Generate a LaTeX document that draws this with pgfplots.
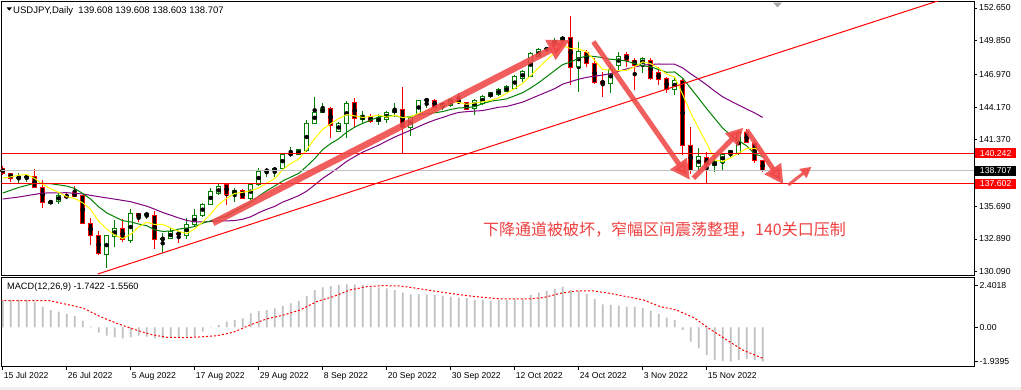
\documentclass[border=0pt]{standalone}
\usepackage{fontspec}
\setmainfont{Liberation Sans}
\newfontfamily\cjk{Noto Sans CJK SC}
\usepackage{pgfplots}
\usepackage{pgfplotstable}
\pgfplotsset{compat=1.18}
\usetikzlibrary{arrows.meta}
\definecolor{upg}{RGB}{0,128,0}
\definecolor{dnr}{RGB}{255,0,0}
\definecolor{maY}{RGB}{255,255,0}
\definecolor{maG}{RGB}{0,128,0}
\definecolor{maP}{RGB}{128,0,128}
\definecolor{arr}{RGB}{240,72,72}
\definecolor{txtr}{RGB}{240,64,64}
\definecolor{lgray}{RGB}{192,192,192}

\pgfplotstableread{
i o h l c
2 138.11 138.51 137.65 138.19
3 138.15 138.45 137.79 138.24
6 135.94 136.23 135.86 136.14
7 136.08 136.94 135.86 136.65
13 131.58 133.17 130.38 133.15
14 133.09 134.51 132.23 133.81
16 132.80 135.46 132.52 135.03
18 134.88 135.17 134.60 135.09
20 132.86 133.38 131.67 132.95
21 132.95 133.81 132.86 133.51
23 133.23 134.66 132.89 134.09
24 134.09 135.43 133.94 134.94
25 134.94 135.94 134.80 135.86
26 135.86 137.23 135.80 136.94
27 136.74 137.65 136.65 137.36
29 136.71 137.23 136.08 137.08
31 136.37 137.65 136.23 137.51
32 137.57 138.94 137.45 138.65
33 138.68 138.99 138.22 138.79
34 138.73 139.05 138.22 138.94
35 138.94 140.20 138.88 140.16
36 140.10 140.79 139.88 140.22
37 140.08 140.60 140.04 140.56
38 140.44 143.07 140.36 142.79
39 142.79 145.06 142.73 143.73
40 143.69 144.55 143.64 144.07
42 142.07 142.92 142.04 142.79
43 142.79 144.69 141.56 144.50
45 143.13 143.84 142.84 143.44
47 142.92 143.56 142.64 143.30
48 143.13 143.84 142.79 143.69
49 143.69 144.55 143.35 143.98
51 142.41 143.41 141.73 143.30
52 143.50 144.82 143.46 144.78
53 144.72 144.84 144.07 144.81
55 144.21 144.55 143.92 144.50
56 144.35 144.87 144.21 144.78
59 144.07 144.84 143.50 144.72
60 144.50 145.21 144.35 145.06
61 145.06 145.49 144.95 145.40
62 145.21 145.81 145.12 145.70
63 145.49 146.04 145.46 145.92
64 145.78 146.92 145.72 146.77
65 146.58 147.35 146.35 147.20
66 146.83 148.91 146.79 148.77
67 148.48 149.20 148.46 149.06
68 149.06 149.34 148.91 149.20
69 149.40 150.06 149.34 149.91
70 149.91 150.25 149.63 150.14
72 147.63 149.77 145.44 148.91
76 146.21 147.77 145.35 147.41
77 147.77 148.91 147.35 148.54
80 147.77 148.48 147.06 148.35
84 145.64 146.77 145.21 146.49
87 139.07 140.65 138.65 139.93
89 139.16 140.08 138.65 139.48
90 139.43 140.22 138.79 140.16
91 140.16 140.50 139.82 140.42
92 140.22 142.13 140.08 141.96
}\up

\pgfplotstableread{
i o h l c
0 138.94 139.13 138.36 138.51
1 138.51 138.56 137.79 138.08
4 138.22 138.85 137.23 137.31
5 137.31 137.94 135.52 136.03
8 136.65 136.80 136.31 136.42
9 136.88 137.42 136.48 136.51
10 136.57 136.65 134.15 134.23
11 134.23 134.66 132.38 133.23
12 133.21 133.57 131.52 131.61
15 133.81 134.58 132.66 132.86
17 135.03 135.09 134.32 134.80
19 134.88 135.29 132.01 132.86
22 133.40 133.60 132.52 133.32
28 137.59 137.65 135.80 136.71
30 137.02 137.14 136.31 136.37
41 144.07 144.14 141.50 142.58
44 144.58 144.93 142.41 143.16
46 143.35 143.58 142.84 142.98
50 143.98 145.87 140.22 142.41
54 144.78 144.84 143.92 144.16
57 144.69 145.35 144.50 144.61
58 144.55 144.63 143.92 143.98
71 150.14 151.99 146.06 147.58
73 148.86 149.06 147.60 147.94
74 147.92 148.35 146.15 146.26
75 146.35 147.20 145.06 146.23
78 148.71 148.86 147.63 148.14
79 148.20 148.35 145.64 147.77
81 148.20 148.35 146.49 146.64
82 147.12 147.58 146.06 146.55
83 146.64 146.77 145.35 145.64
85 146.49 146.55 140.08 140.87
86 140.87 142.45 138.45 138.79
88 139.84 140.33 137.60 139.22
93 142.00 142.27 141.08 141.13
94 141.08 141.36 139.42 139.60
95 139.608 139.608 138.603 138.707
}\down

\pgfplotstableread{
i v
0 1.56
1 1.56
2 1.56
3 1.56
4 1.46
5 1.18
6 0.99
7 0.89
8 0.76
9 0.65
10 0.38
11 0.04
12 -0.31
13 -0.48
14 -0.57
15 -0.63
16 -0.57
17 -0.48
18 -0.53
19 -0.63
20 -0.63
21 -0.63
22 -0.63
23 -0.59
24 -0.53
25 -0.25
26 -0.02
27 0.13
28 0.32
29 0.42
30 0.51
31 0.80
32 0.93
33 0.99
34 1.08
35 1.22
36 1.37
37 1.50
38 1.80
39 2.13
40 2.28
41 2.36
42 2.42
43 2.45
44 2.45
45 2.42
46 2.28
47 2.28
48 2.23
49 2.13
50 1.98
51 1.88
52 1.88
53 1.88
54 1.85
55 1.80
56 1.75
57 1.69
58 1.66
59 1.56
60 1.56
61 1.52
62 1.56
63 1.56
64 1.62
65 1.62
66 1.85
67 1.98
68 2.10
69 2.19
70 2.32
71 2.13
72 2.10
73 1.90
74 1.62
75 1.31
76 1.28
77 1.24
78 1.18
79 1.18
80 1.09
81 0.95
82 0.76
83 0.55
84 0.42
85 -0.15
86 -0.82
87 -1.20
88 -1.58
89 -1.87
90 -1.92
91 -1.96
92 -1.87
93 -1.81
94 -1.87
95 -1.96
}\macd

\begin{document}
\begin{tikzpicture}[x=1pt,y=1pt]
\useasboundingbox (0,0) rectangle (1021,390);
\fill[white] (0,0) rectangle (1021,390);
\fill[black!6] (0,0) rectangle (1021,3.3);

% ---------------- main price panel ----------------
\begin{axis}[
  at={(1.5pt,114.3pt)}, anchor=south west,
  scale only axis, width=972.5pt, height=274.2pt,
  xmin=-0.15, xmax=121.41, ymin=129.751, ymax=153.206,
  axis line style={line width=0.9pt, black},
  xtick=\empty,
  ytick={152.65,149.85,146.97,144.17,141.37,135.69,132.89,130.09},
  yticklabels={152.650,149.850,146.970,144.170,141.370,135.690,132.890,130.090},
  ytick pos=right, yticklabel pos=right,
  tick align=outside, major tick length=3pt,
  tick style={black, line width=0.8pt},
  yticklabel style={font=\fontsize{8.7}{10}\selectfont, anchor=west, inner sep=0pt, xshift=2pt},
  clip mode=individual,
]
% wicks
\addplot[only marks, mark=none, error bars/.cd, y dir=both, y explicit, error mark=none,
  error bar style={line width=1pt, upg}]
  table[x=i, y expr={(\thisrow{h}+\thisrow{l})/2}, y error expr={(\thisrow{h}-\thisrow{l})/2}] {\up};
\addplot[only marks, mark=none, error bars/.cd, y dir=both, y explicit, error mark=none,
  error bar style={line width=1pt, dnr}]
  table[x=i, y expr={(\thisrow{h}+\thisrow{l})/2}, y error expr={(\thisrow{h}-\thisrow{l})/2}] {\down};
% bodies (outline)
\addplot[only marks, mark=none, error bars/.cd, y dir=both, y explicit, error mark=none,
  error bar style={line width=5pt, upg}]
  table[x=i, y expr={(\thisrow{o}+\thisrow{c})/2}, y error expr={abs(\thisrow{c}-\thisrow{o})/2+0.0428}] {\up};
\addplot[only marks, mark=none, error bars/.cd, y dir=both, y explicit, error mark=none,
  error bar style={line width=5pt, dnr}]
  table[x=i, y expr={(\thisrow{o}+\thisrow{c})/2}, y error expr={abs(\thisrow{c}-\thisrow{o})/2+0.0428}] {\down};
% bodies (fill)
\addplot[only marks, mark=none, error bars/.cd, y dir=both, y explicit, error mark=none,
  error bar style={line width=3pt, white}]
  table[x=i, y expr={(\thisrow{o}+\thisrow{c})/2}, y error expr={max(abs(\thisrow{c}-\thisrow{o})/2-0.0428,0)}] {\up};
\addplot[only marks, mark=none, error bars/.cd, y dir=both, y explicit, error mark=none,
  error bar style={line width=3pt, black}]
  table[x=i, y expr={(\thisrow{o}+\thisrow{c})/2}, y error expr={max(abs(\thisrow{c}-\thisrow{o})/2-0.0428,0)}] {\down};

% MA20 (purple)
\addplot[maP, line width=1pt] coordinates {
(0,136.31)(2,136.48)(5,136.82)(8,136.85)(10,136.74)(12,136.51)(14,136.30)(16,136.08)(18,135.70)
(19,135.44)(20,135.16)(21,134.93)(22,134.69)(23,134.48)(24,134.36)(25,134.35)(26,134.39)(27,134.43)
(28,134.44)(29,134.47)(30,134.58)(31,134.79)(32,135.14)(33,135.43)(34,135.68)(35,136.05)(36,136.31)
(37,136.60)(38,136.98)(39,137.52)(40,138.08)(41,138.53)(42,139.01)(43,139.53)(44,139.94)(45,140.32)
(46,140.62)(47,140.92)(48,141.27)(49,141.61)(50,141.91)(51,142.20)(52,142.51)(53,142.81)(54,143.07)
(55,143.29)(56,143.52)(57,143.72)(58,143.78)(59,143.83)(60,143.88)(61,144.02)(62,144.16)(63,144.23)
(64,144.41)(65,144.60)(66,144.89)(67,145.18)(68,145.46)(69,145.75)(70,146.14)(71,146.35)(72,146.56)
(73,146.72)(74,146.82)(75,146.91)(76,147.04)(77,147.24)(78,147.44)(79,147.60)(80,147.76)(81,147.82)
(82,147.86)(83,147.85)(84,147.84)(85,147.52)(86,147.02)(87,146.56)(88,146.07)(89,145.54)(90,145.05)
(91,144.69)(92,144.34)(93,144.00)(94,143.67)(95,143.29)};
% MA10 (green)
\addplot[maG, line width=1pt] coordinates {
(0,136.82)(2,137.30)(4,137.66)(6,137.62)(8,137.42)(9,137.21)
(10,136.78)(11,136.30)(12,135.64)(13,135.13)(14,134.78)(15,134.46)(16,134.35)(17,134.17)(18,134.03)
(19,133.67)(20,133.54)(21,133.57)(22,133.74)(23,133.83)(24,133.95)(25,134.25)(26,134.44)(27,134.69)
(28,134.85)(29,135.28)(30,135.62)(31,136.02)(32,136.55)(33,137.02)(34,137.42)(35,137.85)(36,138.18)
(37,138.50)(38,139.11)(39,139.77)(40,140.54)(41,141.05)(42,141.46)(43,142.03)(44,142.46)(45,142.78)
(46,143.06)(47,143.33)(48,143.42)(49,143.45)(50,143.28)(51,143.36)(52,143.55)(53,143.59)(54,143.69)
(55,143.79)(56,143.97)(57,144.10)(58,144.13)(59,144.21)(60,144.47)(61,144.68)(62,144.77)(63,144.88)
(64,145.14)(65,145.41)(66,145.81)(67,146.26)(68,146.78)(69,147.30)(70,147.81)(71,148.03)(72,148.35)
(73,148.55)(74,148.50)(75,148.40)(76,148.26)(77,148.21)(78,148.11)(79,147.89)(80,147.71)(81,147.62)
(82,147.38)(83,147.15)(84,147.18)(85,146.64)(86,145.78)(87,144.92)(88,144.03)(89,143.20)(90,142.38)
(91,141.76)(92,141.30)(93,140.85)(94,140.16)(95,139.94)};
% MA5 (yellow)
\addplot[maY, line width=1pt] coordinates {
(0,138.10)(1,138.20)(2,138.35)(3,138.40)(4,138.07)
(5,137.57)(6,137.18)(7,136.87)(8,136.51)(9,136.35)(10,135.99)(11,135.41)(12,134.40)(13,133.75)
(14,133.21)(15,132.93)(16,133.29)(17,133.93)(18,134.32)(19,134.13)(20,134.15)(21,133.84)(22,133.55)
(23,133.35)(24,133.76)(25,134.34)(26,135.03)(27,135.84)(28,136.36)(29,136.79)(30,136.89)(31,137.01)
(32,137.26)(33,137.68)(34,138.05)(35,138.81)(36,139.35)(37,139.73)(38,140.53)(39,141.49)(40,142.27)
(41,142.75)(42,143.19)(43,143.53)(44,143.42)(45,143.29)(46,143.37)(47,143.48)(48,143.31)(49,143.48)
(50,143.27)(51,143.34)(52,143.63)(53,143.86)(54,143.89)(55,144.31)(56,144.61)(57,144.57)(58,144.41)
(59,144.52)(60,144.63)(61,144.75)(62,144.97)(63,145.36)(64,145.77)(65,146.20)(66,146.87)(67,147.54)
(68,148.20)(69,148.83)(70,149.42)(71,149.18)(72,149.15)(73,148.90)(74,148.17)(75,147.38)(76,147.35)
(77,147.28)(78,147.32)(79,147.62)(80,148.04)(81,147.89)(82,147.49)(83,146.99)(84,146.73)(85,145.24)
(86,143.67)(87,142.34)(88,141.06)(89,139.66)(90,139.52)(91,139.84)(92,140.25)(93,140.63)(94,140.65)
(95,140.36)};

% horizontal levels and trend line
\addplot[lgray, line width=1pt] coordinates {(-0.15,138.707) (121.41,138.707)};
\addplot[dnr, line width=1pt] coordinates {(-0.15,140.242) (121.41,140.242)};
\addplot[dnr, line width=1pt] coordinates {(-0.15,137.602) (121.41,137.602)};
\addplot[dnr, line width=1pt] coordinates {(11.9,129.90) (121.41,154.26)};

% annotation arrows
\begin{scope}[opacity=0.88]
\draw[arr, line width=6.5pt, -{Triangle[length=22pt,width=21pt]}] (axis cs:26.29,134.26) -- (axis cs:70.91,149.92);
\draw[arr, line width=5pt, -{Triangle[length=20pt,width=19pt]}] (axis cs:73.83,149.77) -- (axis cs:85.91,137.94);
\draw[arr, line width=5pt, -{Triangle[length=17pt,width=17pt]}] (axis cs:86.33,138.08) -- (axis cs:92.58,142.41);
\draw[arr, line width=5pt, -{Triangle[length=19pt,width=19pt]}] (axis cs:93.0,142.21) -- (axis cs:97.58,137.57);
\draw[arr, line width=3pt, -{Triangle[length=11pt,width=11pt]}] (axis cs:98.2,137.51) -- (axis cs:101.1,139.07);
\end{scope}

% price tags
\node[fill=dnr, text=white, inner sep=0pt, minimum width=41pt, minimum height=10pt, anchor=west,
  font=\fontsize{8.7}{10}\selectfont] at ([xshift=1pt]axis cs:121.41,140.242) {140.242};
\node[fill=black, text=white, inner sep=0pt, minimum width=41pt, minimum height=10pt, anchor=west,
  font=\fontsize{8.7}{10}\selectfont] at ([xshift=1pt]axis cs:121.41,138.707) {138.707};
\node[fill=dnr, text=white, inner sep=0pt, minimum width=41pt, minimum height=10pt, anchor=west,
  font=\fontsize{8.7}{10}\selectfont] at ([xshift=1pt]axis cs:121.41,137.602) {137.602};
\end{axis}

% ---------------- MACD panel ----------------
\begin{axis}[
  at={(1.5pt,23.3pt)}, anchor=south west,
  scale only axis, width=972.5pt, height=89pt,
  xmin=-0.15, xmax=121.41, ymin=-2.251, ymax=2.834,
  axis line style={line width=0.9pt, black},
  xtick={0,8,16,24,32,40,48,56,64,72,80,88}, xticklabels=\empty,
  x tick style={black, line width=0.8pt},
  xtick pos=bottom,
  ytick={2.4018,0,-1.9395}, yticklabels={2.4018,0.00,-1.9395},
  ytick pos=right, yticklabel pos=right,
  tick align=outside, major tick length=3.5pt,
  tick style={black, line width=0.8pt},
  yticklabel style={font=\fontsize{8.7}{10}\selectfont, anchor=west, inner sep=0pt, xshift=2pt},
  clip mode=individual,
]
\addplot[ybar, bar width=1.7pt, fill=lgray, draw=none] table[x=i, y=v] {\macd};
\addplot[dnr, line width=1pt, dash pattern=on 2pt off 2pt] coordinates {
(-0.3,1.52)(5.9,1.52)(8,1.31)(10.1,1.09)(12.2,0.61)(14.25,0.23)(16.3,-0.10)(18.4,-0.40)(20.5,-0.57)
(23,-0.59)(24.7,-0.55)(26.75,-0.48)(28.8,-0.29)(30.9,0.13)(33,0.48)(35.1,0.70)(37.2,0.99)(39.25,1.47)
(41.3,1.75)(43.4,2.13)(45.5,2.32)(47.6,2.38)(49.7,2.36)(51.75,2.23)(53.8,2.08)(55.9,1.94)(58,1.81)
(60.1,1.71)(62.2,1.62)(63.4,1.62)(65.9,1.62)(67.6,1.70)(69.7,1.94)(71.7,2.08)(73.8,2.08)(75.9,1.94)
(78,1.75)(80.1,1.56)(82.2,1.18)(84.2,0.99)(86.4,0.55)(88.4,-0.10)(90.5,-0.72)(92.5,-1.30)(95,-1.77)};
\end{axis}

% headers
\fill[black] (6.5,382.7) -- (12,382.7) -- (9.25,379.3) -- cycle;
\node[anchor=base west, inner sep=0pt, font=\fontsize{9.5}{11}\selectfont] at (13,376)
  {USDJPY,Daily\ \ 139.608 139.608 138.603 138.707};
\node[anchor=base west, inner sep=0pt, font=\fontsize{9.2}{11}\selectfont] at (7,100)
  {MACD(12,26,9) -1.7422 -1.5560};
\fill[black!35] (773,387.3) -- (782,387.3) -- (777.5,382.7) -- cycle;

% date labels
\begin{scope}[every node/.style={anchor=base west, inner sep=0pt, font=\fontsize{8.6}{10}\selectfont}]
\node at (3.7,11) {15 Jul 2022};
\node at (67.7,11) {26 Jul 2022};
\node at (131.7,11) {5 Aug 2022};
\node at (195.7,11) {17 Aug 2022};
\node at (259.7,11) {29 Aug 2022};
\node at (323.7,11) {8 Sep 2022};
\node at (387.7,11) {20 Sep 2022};
\node at (451.7,11) {30 Sep 2022};
\node at (515.7,11) {12 Oct 2022};
\node at (579.7,11) {24 Oct 2022};
\node at (643.7,11) {3 Nov 2022};
\node at (707.7,11) {15 Nov 2022};
\end{scope}

% annotation text
\node[anchor=west, inner sep=0pt, text=txtr, font=\cjk\fontsize{16}{18}\selectfont] at (483,160.5)
  {下降通道被破坏，窄幅区间震荡整理，140关口压制};
\end{tikzpicture}
\end{document}
